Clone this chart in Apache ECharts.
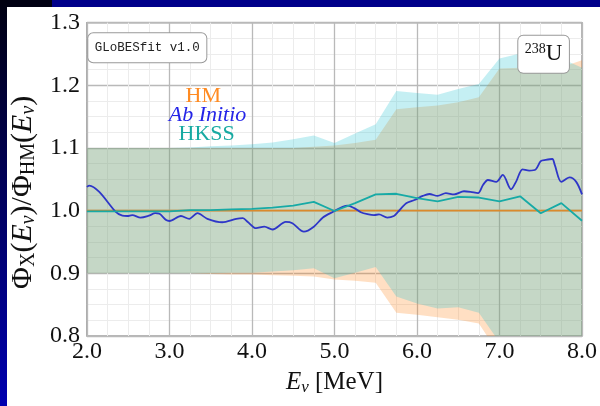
<!DOCTYPE html>
<html><head><meta charset="utf-8">
<script src="https://cdn.jsdelivr.net/npm/echarts@6/dist/echarts.min.js"></script>
<style>html,body{margin:0;padding:0;background:#fff}#c{width:600px;height:406px}</style>
</head><body><div id="c"></div>
<script>
// ---- data (energies in MeV, flux ratios to HM) ----
const bandE = [2.0,2.25,2.5,2.75,3.0,3.25,3.5,3.75,4.0,4.25,4.5,4.75,5.0,5.25,5.5,5.75,6.0,6.25,6.5,6.75,7.0,7.25,7.5,7.75,8.0];
const hmLower = [0.900,0.900,0.900,0.900,0.900,0.900,0.899,0.898,0.898,0.897,0.896,0.895,0.890,0.888,0.885,0.837,0.834,0.830,0.826,0.820,0.770,0.740,0.720,0.700,0.680];
const hmUpper = [1.100,1.100,1.100,1.100,1.100,1.100,1.100,1.100,1.100,1.100,1.100,1.102,1.104,1.108,1.113,1.162,1.165,1.168,1.173,1.181,1.227,1.228,1.228,1.229,1.240];
const hkssLower = [0.900,0.900,0.900,0.900,0.900,0.900,0.900,0.901,0.901,0.903,0.905,0.908,0.892,0.901,0.910,0.863,0.852,0.844,0.846,0.837,0.790,0.780,0.770,0.760,0.750];
const hkssUpper = [1.100,1.100,1.100,1.100,1.100,1.101,1.103,1.104,1.106,1.109,1.114,1.120,1.108,1.123,1.138,1.191,1.188,1.185,1.194,1.202,1.243,1.251,1.248,1.243,1.228];
const hkssRatio = [0.999,0.999,0.999,0.999,0.999,1.001,1.001,1.002,1.003,1.005,1.008,1.014,0.9995,1.012,1.026,1.027,1.020,1.015,1.022,1.021,1.015,1.023,0.996,1.012,0.984];
const hmE = [2.0, 8.0];
const hmRatio = [1.0, 1.0];
const abE = [2.00,2.03,2.15,2.35,2.43,2.49,2.55,2.65,2.75,2.83,2.88,2.96,3.00,3.14,3.24,3.34,3.46,3.64,3.81,3.89,3.95,4.05,4.15,4.25,4.41,4.49,4.63,4.75,4.86,4.98,5.10,5.16,5.24,5.32,5.40,5.48,5.54,5.64,5.72,5.77,5.87,5.97,6.07,6.15,6.25,6.35,6.45,6.57,6.65,6.74,6.80,6.86,6.96,7.04,7.14,7.20,7.28,7.36,7.44,7.50,7.56,7.64,7.67,7.75,7.85,7.93,8.00];
const abRatio = [1.038,1.040,1.030,0.998,0.992,0.9915,0.993,0.989,0.992,0.996,0.995,0.985,0.9835,0.9915,0.987,0.996,0.987,0.9815,0.987,0.988,0.982,0.972,0.9745,0.970,0.982,0.980,0.9665,0.9745,0.989,0.998,1.006,1.008,1.004,0.9975,0.9945,0.993,0.994,0.989,0.9915,0.998,1.012,1.017,1.0235,1.0266,1.0235,1.028,1.026,1.031,1.030,1.028,1.041,1.049,1.046,1.057,1.034,1.046,1.066,1.064,1.066,1.079,1.081,1.0825,1.073,1.046,1.053,1.046,1.026];
const xTicks = ['2.0','3.0','4.0','5.0','6.0','7.0','8.0'];
const seriesNames = ['HM', 'Ab Initio', 'HKSS'];

const zip = (xs, ys) => xs.map((x, i) => [x, ys[i]]);
const SERIF = '"Liberation Serif", "Times New Roman", serif';

// band drawn as one polygon through the axis scales (api.coord)
function bandSeries(name, lo, hi, color, z) {
  return {
    name: name, type: 'custom', z: z, silent: true, clip: true,
    data: bandE.map((e, i) => [e, lo[i], hi[i]]),
    encode: {x: 0, y: [1, 2]},
    renderItem: function (params, api) {
      if (params.dataIndex !== 0) return null;
      const n = params.dataInsideLength || bandE.length;
      const top = [], bot = [];
      for (let i = 0; i < bandE.length; i++) {
        top.push(api.coord([bandE[i], hi[i]]));
        bot.push(api.coord([bandE[i], lo[i]]));
      }
      const cs = params.coordSys;
      return {
        type: 'polygon',
        shape: {points: top.concat(bot.reverse())},
        style: {fill: color},
        clipPath: {type: 'rect', shape: {x: cs.x, y: cs.y, width: cs.width, height: cs.height}}
      };
    }
  };
}

const chart = echarts.init(document.getElementById('c'), null, {renderer: 'canvas'});
chart.setOption({
  backgroundColor: '#ffffff',
  animation: false,
  grid: {left: 80.5, right: 14.3, top: 22.7, bottom: 70, show: true, borderColor: '#a0a0a0', borderWidth: 1.5, backgroundColor: '#fff'},
  xAxis: {
    type: 'value', min: 2, max: 8, interval: 1,
    axisLine: {show: false}, axisTick: {show: false},
    axisLabel: {margin: 4, color: '#111', fontFamily: SERIF, fontSize: 24,
      formatter: v => xTicks[Math.round(v - 2)]},
    splitLine: {show: true, lineStyle: {color: '#b9b9b9', width: 1.3}},
    minorTick: {show: false, splitNumber: 4},
    minorSplitLine: {show: true, lineStyle: {color: '#ececec', width: 1}},
    name: '{i|E}{si|ν}{f| [MeV]}', nameLocation: 'middle', nameGap: 32,
    nameTextStyle: {rich: {
      i: {fontFamily: SERIF, fontStyle: 'italic', fontSize: 25, lineHeight: 28, color: '#111'},
      si: {fontFamily: SERIF, fontStyle: 'italic', fontSize: 17, lineHeight: 10, verticalAlign: 'bottom', color: '#111'},
      f: {fontFamily: SERIF, fontSize: 25, lineHeight: 28, color: '#111'}
    }}
  },
  yAxis: {
    type: 'value', min: 0.8, max: 1.3, interval: 0.1,
    axisLine: {show: false}, axisTick: {show: false},
    axisLabel: {margin: 7, color: '#111', fontFamily: SERIF, fontSize: 24, formatter: v => v.toFixed(1)},
    splitLine: {show: true, lineStyle: {color: '#b9b9b9', width: 1.3}},
    minorTick: {show: false, splitNumber: 4},
    minorSplitLine: {show: true, lineStyle: {color: '#ececec', width: 1}},
    name: '{f|Φ}{s|X}{f|(}{i|E}{si|ν}{f|)/Φ}{s|HM}{f|(}{i|E}{si|ν}{f|)}',
    nameLocation: 'middle', nameGap: 38, nameRotate: 90,
    nameTextStyle: {padding: [0, 26, 0, 0], rich: {
      f: {fontFamily: SERIF, fontSize: 30, lineHeight: 32, color: '#111'},
      i: {fontFamily: SERIF, fontStyle: 'italic', fontSize: 30, lineHeight: 32, color: '#111'},
      s: {fontFamily: SERIF, fontSize: 20, lineHeight: 12, verticalAlign: 'bottom', color: '#111'},
      si: {fontFamily: SERIF, fontStyle: 'italic', fontSize: 20, lineHeight: 12, verticalAlign: 'bottom', color: '#111'}
    }}
  },
  series: [
    bandSeries('HM band', hmLower, hmUpper, 'rgba(255,127,14,0.25)', 1),
    bandSeries('HKSS band', hkssLower, hkssUpper, 'rgba(23,190,207,0.25)', 2),
    {name: seriesNames[0], type: 'line', data: zip(hmE, hmRatio), symbol: 'none', lineStyle: {color: '#db8a2c', width: 1.8}, z: 3},
    {name: seriesNames[1], type: 'line', data: zip(abE, abRatio), symbol: 'none', smooth: 0.3, lineStyle: {color: '#2e36c8', width: 1.8}, z: 4},
    {name: seriesNames[2], type: 'line', data: zip(bandE, hkssRatio), symbol: 'none', lineStyle: {color: '#17aaa6', width: 1.8}, z: 5}
  ],
  graphic: [
    {type: 'rect', shape: {x: 0, y: 0, width: 600, height: 7}, style: {fill: '#00008a'}, z: 200, silent: true},
    {type: 'rect', shape: {x: 0, y: 0, width: 52, height: 7}, style: {fill: '#000012'}, z: 201, silent: true},
    {type: 'rect', shape: {x: 0, y: 0, width: 7, height: 406}, z: 202, silent: true,
      style: {fill: new echarts.graphic.LinearGradient(0, 0, 0, 1, [{offset: 0, color: '#000010'}, {offset: 1, color: '#0000b0'}])}},
    {type: 'text', x: 88.3, y: 33.3, z: 150, silent: true,
      style: {text: 'GLoBESfit v1.0', fontFamily: '"Liberation Mono", "DejaVu Sans Mono", monospace', fontSize: 12.5, lineHeight: 15,
        fill: '#222', align: 'left', verticalAlign: 'top', backgroundColor: '#fff', borderColor: '#999', borderWidth: 1,
        borderRadius: 5, padding: [7, 6.5, 7, 6.5]}},
    {type: 'text', x: 518.3, y: 35.7, z: 150, silent: true,
      style: {text: '{s|238}{u|U}', align: 'left', verticalAlign: 'top', backgroundColor: '#fff', borderColor: '#999', borderWidth: 1,
        borderRadius: 5, padding: [6.5, 6.5, 6.5, 6.5],
        rich: {s: {fontFamily: SERIF, fontSize: 14, lineHeight: 14, verticalAlign: 'top', fill: '#111'},
               u: {fontFamily: SERIF, fontSize: 23, lineHeight: 24, fill: '#111'}}}},
    {type: 'text', x: 203.3, y: 96.7, z: 150, silent: true,
      style: {text: seriesNames[0], fontFamily: SERIF, fontSize: 22, fill: '#ff8b22', align: 'center', verticalAlign: 'middle'}},
    {type: 'text', x: 207.5, y: 115.5, z: 150, silent: true,
      style: {text: seriesNames[1], fontFamily: SERIF, fontStyle: 'italic', fontSize: 22, fill: '#2424e8', align: 'center', verticalAlign: 'middle'}},
    {type: 'text', x: 206.7, y: 134.5, z: 150, silent: true,
      style: {text: seriesNames[2], fontFamily: SERIF, fontSize: 22, fill: '#17aaa2', align: 'center', verticalAlign: 'middle'}}
  ]
});
</script>
</body></html>
